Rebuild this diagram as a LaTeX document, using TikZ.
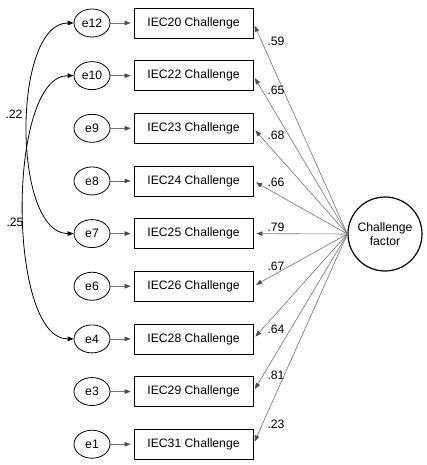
\documentclass[tikz,border=0pt]{standalone}
\usepackage{fontspec}
\setmainfont{Liberation Sans}
\usetikzlibrary{shapes.geometric,arrows.meta}

\tikzset{
  errnode/.style={draw,ellipse,thick,inner sep=0pt,minimum width=36pt,minimum height=28pt},
  itembox/.style={draw,thick,inner sep=0pt,minimum width=119pt,minimum height=30pt},
  factor/.style={draw,circle,line width=1.2pt,minimum size=74pt,align=center,inner sep=0pt},
  small/.style={draw=black!55,semithick,-{Triangle[length=6pt,width=4.5pt,color=black!70]},shorten >=3pt},
  load/.style={draw=black!55,line width=0.6pt,-{Triangle[length=6pt,width=4.5pt,color=black!70]},shorten >=3pt},
  cov/.style={thick,{Triangle[length=6pt,width=4.5pt]}-{Triangle[length=6pt,width=4.5pt]}}
}

\begin{document}
\begin{tikzpicture}[x=1pt,y=-1pt,font=\fontsize{12.2}{14}\selectfont]
  \useasboundingbox (0,0) rectangle (427,465);
  % error terms and items
  \foreach \e/\q/\r in {12/20/0,10/22/1,9/23/2,8/24/3,7/25/4,6/26/5,4/28/6,3/29/7,1/31/8} {
    \node[errnode] (e\e) at (92,{23+52.65*\r}) {e\e};
    \node[itembox] (q\q) at (193.5,{23+52.65*\r}) {IEC\q{} Challenge};
    \draw[small] (e\e) -- (q\q);
  }
  \node[factor] (chal) at (385,234) {Challenge\\factor};
  % loadings
  \foreach \q/\w/\ly in {20/.59/41,22/.65/90,23/.68/135,24/.66/182,25/.79/227,26/.67/266,28/.64/329,29/.81/375,31/.23/424} {
    \draw[load] (chal.west) -- (q\q.east);
    \node (l\q) at (276,\ly) {\w};
  }
  % covariances
  \draw[cov] (e12.west) to[out=180,in=180,looseness=0.75] (e7.west);
  \draw[cov] (e10.west) to[out=180,in=180,looseness=0.65] (e4.west);
  \node (c1) at (14,114) {.22};
  \node (c2) at (15,222) {.25};
\end{tikzpicture}
\end{document}
